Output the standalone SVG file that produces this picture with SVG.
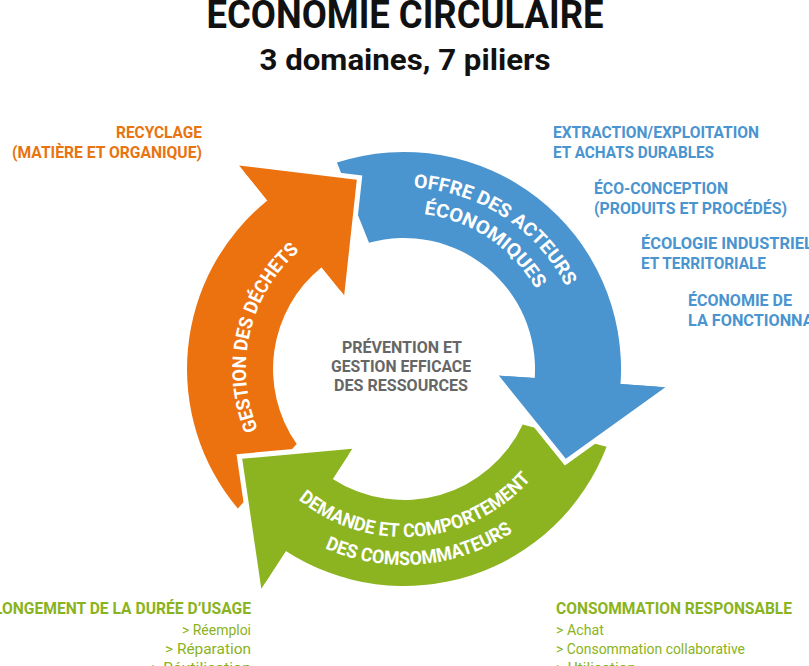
<svg xmlns="http://www.w3.org/2000/svg" width="809" height="666" viewBox="0 0 809 666">
<style>
text{font-family:Roboto,"Liberation Sans",sans-serif;font-weight:bold}
.t{font-size:38px;fill:#111}
.s{font-size:30px;fill:#111}
.o{font-size:16px;fill:#e8730f}
.b{font-size:16px;fill:#4a94cf}
.g{font-size:16px;fill:#8ab320}
.gl{font-size:15px;fill:#8ab320;font-weight:normal}
.c{font-size:16px;fill:#666}
.w{font-size:19px;fill:#fff}
.hs{fill:none;stroke:#fff;stroke-width:10;stroke-linejoin:miter}
</style>
<defs>
<path id="pb1" d="M321.6,207.2 A182,182 0 0 1 585.8,378.5"/>
<path id="pb2" d="M335.0,229.6 A152,152 0 0 1 555.8,377.0"/>
<path id="po" d="M296.2,484.6 A158,158 0 0 1 357.8,217.9"/>
<path id="pg1" d="M266.4,465.4 A168,168 0 0 0 556.3,440.0"/>
<path id="pg2" d="M243.4,481.4 A196,196 0 0 0 581.6,451.8"/>
</defs>
<rect width="809" height="666" fill="#fff"/>
<text class="t" x="405" y="28" text-anchor="middle" textLength="397" lengthAdjust="spacingAndGlyphs">ÉCONOMIE CIRCULAIRE</text>
<text class="s" x="405" y="70" text-anchor="middle" textLength="291" lengthAdjust="spacingAndGlyphs">3 domaines, 7 piliers</text>
<g id="connectors">
<path fill="#4a94cf" d="M336.9,162.6 A217,217 0 0 1 620.5,384.1 L665.4,387.3 L565.8,458.7 L498.8,375.6 L534.7,378.1 A131,131 0 0 0 369.0,242.8 Z"/>
<path fill="#8cb421" d="M606.6,446.8 A217,217 0 0 1 285.8,551.0 L261.3,588.7 L242.2,458.7 L352.3,448.7 L332.7,478.9 A131,131 0 0 0 522.7,424.4 Z"/>
<path fill="#ec7210" d="M237.8,508.5 A217,217 0 0 1 267.4,200.4 L239.1,165.4 L356.8,179.8 L344.2,295.2 L321.6,267.2 A131,131 0 0 0 296.7,444.1 Z"/>
<polyline class="hs" points="665.4,387.3 565.8,458.7 498.8,375.6"/>
<polygon fill="#4a94cf" points="620.5,384.1 665.4,387.3 565.8,458.7 498.8,375.6 534.7,378.1"/>
<polyline class="hs" points="261.3,588.7 242.2,458.7 352.3,448.7"/>
<polygon fill="#8cb421" points="285.8,551.0 261.3,588.7 242.2,458.7 352.3,448.7 332.7,478.9"/>
<polyline class="hs" points="239.1,165.4 356.8,179.8 344.2,295.2"/>
<polygon fill="#ec7210" points="267.4,200.4 239.1,165.4 356.8,179.8 344.2,295.2 321.6,267.2"/>
</g>
<g id="offre">
<text class="w"><textPath href="#pb1" startOffset="50%" text-anchor="middle" textLength="190" lengthAdjust="spacingAndGlyphs">OFFRE DES ACTEURS</textPath></text>
<text class="w"><textPath href="#pb2" startOffset="50%" text-anchor="middle" textLength="140" lengthAdjust="spacingAndGlyphs">ÉCONOMIQUES</textPath></text>
</g>
<g id="gestion">
<text class="w"><textPath href="#po" startOffset="50%" text-anchor="middle" textLength="196" lengthAdjust="spacingAndGlyphs">GESTION DES DÉCHETS</textPath></text>
</g>
<g id="demande">
<text class="w"><textPath href="#pg1" startOffset="50%" text-anchor="middle" textLength="258" lengthAdjust="spacingAndGlyphs">DEMANDE ET COMPORTEMENT</textPath></text>
<text class="w"><textPath href="#pg2" startOffset="50%" text-anchor="middle" textLength="197" lengthAdjust="spacingAndGlyphs">DES COMSOMMATEURS</textPath></text>
</g>
<g id="centre">
<text class="c" x="402" y="353" text-anchor="middle" textLength="120" lengthAdjust="spacingAndGlyphs">PRÉVENTION ET</text>
<text class="c" x="401" y="372" text-anchor="middle" textLength="140" lengthAdjust="spacingAndGlyphs">GESTION EFFICACE</text>
<text class="c" x="401" y="391" text-anchor="middle" textLength="134" lengthAdjust="spacingAndGlyphs">DES RESSOURCES</text>
</g>
<g id="recyclage">
<text class="o" x="202" y="138" text-anchor="end" textLength="86" lengthAdjust="spacingAndGlyphs">RECYCLAGE</text>
<text class="o" x="202" y="158" text-anchor="end" textLength="190" lengthAdjust="spacingAndGlyphs">(MATIÈRE ET ORGANIQUE)</text>
</g>
<g id="extraction">
<text class="b" x="553" y="138" textLength="206" lengthAdjust="spacingAndGlyphs">EXTRACTION/EXPLOITATION</text>
<text class="b" x="553" y="158" textLength="161" lengthAdjust="spacingAndGlyphs">ET ACHATS DURABLES</text>
</g>
<g id="ecoconception">
<text class="b" x="594" y="194" textLength="134" lengthAdjust="spacingAndGlyphs">ÉCO-CONCEPTION</text>
<text class="b" x="594" y="214" textLength="193" lengthAdjust="spacingAndGlyphs">(PRODUITS ET PROCÉDÉS)</text>
</g>
<g id="ecologie">
<text class="b" x="641" y="249" textLength="190" lengthAdjust="spacingAndGlyphs">ÉCOLOGIE INDUSTRIELLE</text>
<text class="b" x="641" y="269" textLength="125" lengthAdjust="spacingAndGlyphs">ET TERRITORIALE</text>
</g>
<g id="fonctionnalite">
<text class="b" x="688" y="306" textLength="104" lengthAdjust="spacingAndGlyphs">ÉCONOMIE DE</text>
<text class="b" x="688" y="326" textLength="158" lengthAdjust="spacingAndGlyphs">LA FONCTIONNALITÉ</text>
</g>
<g id="allongement">
<text class="g" x="251" y="614" text-anchor="end" textLength="276" lengthAdjust="spacingAndGlyphs">ALLONGEMENT DE LA DURÉE D’USAGE</text>
<text class="gl" x="251" y="635" text-anchor="end" textLength="69" lengthAdjust="spacingAndGlyphs">&gt; Réemploi</text>
<text class="gl" x="251" y="654" text-anchor="end" textLength="86" lengthAdjust="spacingAndGlyphs">&gt; Réparation</text>
<text class="gl" x="251" y="673" text-anchor="end" textLength="100" lengthAdjust="spacingAndGlyphs">&gt; Réutilisation</text>
</g>
<g id="consommation">
<text class="g" x="556" y="614" textLength="236" lengthAdjust="spacingAndGlyphs">CONSOMMATION RESPONSABLE</text>
<text class="gl" x="556" y="635" textLength="48" lengthAdjust="spacingAndGlyphs">&gt; Achat</text>
<text class="gl" x="556" y="654" textLength="189" lengthAdjust="spacingAndGlyphs">&gt; Consommation collaborative</text>
<text class="gl" x="556" y="673" textLength="80" lengthAdjust="spacingAndGlyphs">&gt; Utilisation</text>
</g>
</svg>
